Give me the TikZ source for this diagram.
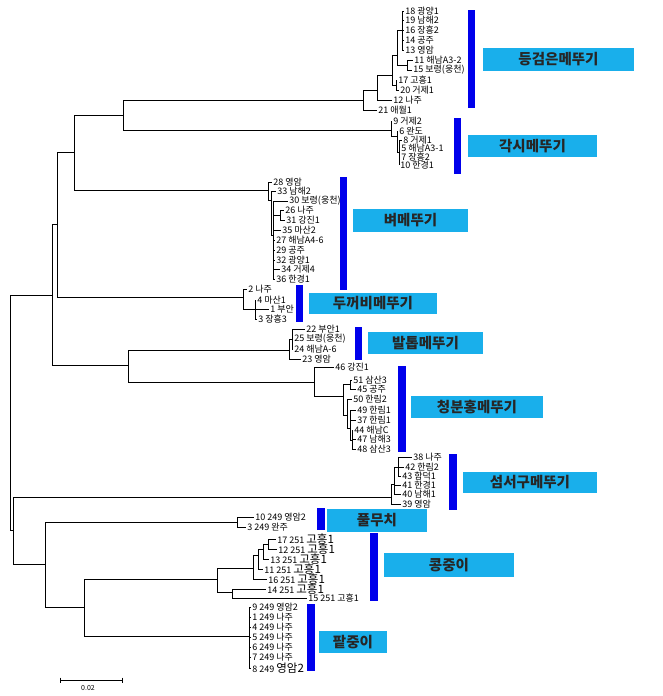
\documentclass[tikz,border=0pt]{standalone}
\usepackage{fontspec}
\setmainfont{Noto Sans CJK KR}
\definecolor{barblue}{RGB}{0,0,235}
\definecolor{boxblue}{RGB}{25,175,235}
\newcommand{\bigname}[1]{{\fontsize{11.5}{11.5}\selectfont #1}}
\begin{document}
\begin{tikzpicture}[x=1pt,y=-1pt,line width=0.8pt,
  tip/.style={anchor=west,inner sep=1pt,font=\fontsize{9}{9}\selectfont},
  grp/.style={fill=boxblue,inner sep=0pt,text=black!85,font=\fontsize{14.5}{14.5}\selectfont\bfseries},
  bar/.style={fill=barblue}]
\useasboundingbox (0,0) rectangle (662,696);
\coordinate (root) at (10,412);
\coordinate (nA) at (52,295);
\coordinate (nB) at (57,224);
\coordinate (nC) at (74,152);
\coordinate (nD) at (123,115);
\coordinate (nE) at (128,365);
\coordinate (nF) at (13,530);
\coordinate (nG) at (45,564);
\coordinate (nH) at (84,607);
\coordinate (dgA) at (363,100);
\coordinate (dgB) at (377,90);
\coordinate (dgC) at (392,75);
\coordinate (dgD) at (397,55);
\coordinate (dgE) at (396,85);
\coordinate (dgF) at (402,30);
\coordinate (dgG) at (407,65);
\coordinate (gsA) at (391,130);
\coordinate (gsB) at (397,136);
\coordinate (gsC) at (399,152);
\coordinate (byA) at (268,190);
\coordinate (byB) at (271,200);
\coordinate (byC) at (273,235);
\coordinate (byD) at (280,215);
\coordinate (dkA) at (243,297);
\coordinate (dkB) at (255,309);
\coordinate (btA) at (289,350);
\coordinate (btB) at (292,339);
\coordinate (cbA) at (314,382);
\coordinate (cbB) at (343,396);
\coordinate (cbC) at (350,384);
\coordinate (cbD) at (347,415);
\coordinate (cbE) at (350,428);
\coordinate (cbF) at (352,440);
\coordinate (smA) at (391,497);
\coordinate (smB) at (394,484);
\coordinate (smC) at (398,467);
\coordinate (pmA) at (237,522);
\coordinate (kjA) at (217,579);
\coordinate (kjB) at (253,568);
\coordinate (kjC) at (258,555);
\coordinate (kjD) at (263,549);
\coordinate (kjE) at (268,544);
\coordinate (kjF) at (232,592);
\coordinate (pjA) at (249,636);
% tips
\node[tip] (dg18) at (404,11) {18 광양1};
\node[tip] (dg19) at (404,20) {19 남해2};
\node[tip] (dg16) at (404,30) {16 장흥2};
\node[tip] (dg14) at (404,40) {14 공주};
\node[tip] (dg13) at (404,50) {13 영암};
\node[tip] (dg11) at (413,60) {11 해남A3-2};
\node[tip] (dg15) at (412,70) {15 보령(웅천)};
\node[tip] (dg17) at (397,80) {17 고흥1};
\node[tip] (dg20) at (399,90) {20 거제1};
\node[tip] (dg12) at (392,100) {12 나주};
\node[tip] (dg21) at (377,110) {21 애월1};
\node[tip] (gs9) at (392,121) {9 거제2};
\node[tip] (gs6) at (398,131) {6 완도};
\node[tip] (gs8) at (402,140) {8 거제1};
\node[tip] (gs5) at (400,148) {5 해남A3-1};
\node[tip] (gs7) at (400,157) {7 장흥2};
\node[tip] (gs10) at (399,165) {10 한경1};
\node[tip] (by28) at (272,182) {28 영암};
\node[tip] (by33) at (276,191) {33 남해2};
\node[tip] (by30) at (288,201) {30 보령(웅천)};
\node[tip] (by26) at (284,210) {26 나주};
\node[tip] (by31) at (285,220) {31 강진1};
\node[tip] (by35) at (281,230) {35 마산2};
\node[tip] (by27) at (275,240) {27 해남A4-6};
\node[tip] (by29) at (275,250) {29 공주};
\node[tip] (by32) at (275,260) {32 광양1};
\node[tip] (by34) at (280,269) {34 거제4};
\node[tip] (by36) at (275,279) {36 한경1};
\node[tip] (dk2) at (247,289) {2 나주};
\node[tip] (dk4) at (256,300) {4 마산1};
\node[tip] (dk1) at (269,309) {1 부안};
\node[tip] (dk3) at (257,319) {3 장흥3};
\node[tip] (bt22) at (305,329) {22 부안1};
\node[tip] (bt25) at (293,339) {25 보령(웅천)};
\node[tip] (bt24) at (293,349) {24 해남A-6};
\node[tip] (bt23) at (301,359) {23 영암};
\node[tip] (cb46) at (334,367) {46 강진1};
\node[tip] (cb51) at (352,380) {51 삼산3};
\node[tip] (cb45) at (356,389) {45 공주};
\node[tip] (cb50) at (352,399) {50 한림2};
\node[tip] (cb49) at (356,410) {49 한림1};
\node[tip] (cb37) at (356,420) {37 한림1};
\node[tip] (cb44) at (353,430) {44 해남C};
\node[tip] (cb47) at (356,439) {47 남해3};
\node[tip] (cb48) at (356,449) {48 삼산3};
\node[tip] (sm38) at (412,457) {38 나주};
\node[tip] (sm42) at (404,467) {42 한림2};
\node[tip] (sm43) at (401,476) {43 함덕1};
\node[tip] (sm41) at (401,485) {41 한경1};
\node[tip] (sm40) at (401,494) {40 남해1};
\node[tip] (sm39) at (401,504) {39 영암};
\node[tip] (pm10) at (254,517) {10 249 영암2};
\node[tip] (pm3) at (246,527) {3 249 완주};
\node[tip] (kj17) at (276,539) {17 251 \bigname{고흥1}};
\node[tip] (kj12) at (277,549) {12 251 \bigname{고흥1}};
\node[tip] (kj13) at (269,559) {13 251 \bigname{고흥1}};
\node[tip] (kj11) at (263,569) {11 251 \bigname{고흥1}};
\node[tip] (kj16) at (267,579) {16 251 \bigname{고흥1}};
\node[tip] (kj14) at (266,589) {14 251 \bigname{고흥1}};
\node[tip] (kj15) at (307,598) {15 251 고흥1};
\node[tip] (pj9) at (251,607) {9 249 영암2};
\node[tip] (pj1) at (251,617) {1 249 나주};
\node[tip] (pj4) at (251,627) {4 249 나주};
\node[tip] (pj5) at (251,637) {5 249 나주};
\node[tip] (pj6) at (251,647) {6 249 나주};
\node[tip] (pj7) at (251,657) {7 249 나주};
\node[tip] (pj8) at (251,668) {8 249 \bigname{영암2}};
% branches
\draw (root) |- (nA) (root) |- (nF);
\draw (nA) |- (nB) (nA) |- (nE);
\draw (nB) |- (nC) (nB) |- (dkA);
\draw (nC) |- (nD) (nC) |- (byA);
\draw (nD) |- (dgA) (nD) |- (gsA);
\draw (nE) |- (btA) (nE) |- (cbA);
\draw (nF) |- (smA) (nF) |- (nG);
\draw (nG) |- (pmA) (nG) |- (nH);
\draw (nH) |- (kjA) (nH) |- (pjA);
\draw (dgA) |- (dgB) (dgA) |- (dg21.west);
\draw (dgB) |- (dgC) (dgB) |- (dg12.west);
\draw (dgC) |- (dgD) (dgC) |- (dgE);
\draw (dgE) |- (dg17.west) (dgE) |- (dg20.west);
\draw (dgD) |- (dgF) (dgD) |- (dgG);
\draw (dgF) |- (dg18.west) (dgF) |- (dg19.west) (dgF) |- (dg16.west) (dgF) |- (dg14.west) (dgF) |- (dg13.west);
\draw (dgG) |- (dg11.west) (dgG) |- (dg15.west);
\draw (gsA) |- (gs9.west) (gsA) |- (gsB);
\draw (gsB) |- (gs6.west) (gsB) |- (gsC);
\draw (gsC) |- (gs8.west) (gsC) |- (gs5.west) (gsC) |- (gs7.west) (gsC) |- (gs10.west);
\draw (byA) |- (by28.west) (byA) |- (byB);
\draw (byB) |- (by33.west) (byB) |- (byC);
\draw (byC) |- (by30.west) (byC) |- (byD) (byC) |- (by35.west) (byC) |- (by27.west) (byC) |- (by29.west) (byC) |- (by32.west) (byC) |- (by34.west) (byC) |- (by36.west);
\draw (byD) |- (by26.west) (byD) |- (by31.west);
\draw (dkA) |- (dk2.west) (dkA) |- (dkB);
\draw (dkB) |- (dk4.west) (dkB) |- (dk1.west) (dkB) |- (dk3.west);
\draw (btA) |- (btB) (btA) |- (bt23.west);
\draw (btB) |- (bt22.west) (btB) |- (bt25.west) (btB) |- (bt24.west);
\draw (cbA) |- (cb46.west) (cbA) |- (cbB);
\draw (cbB) |- (cbC) (cbB) |- (cbD);
\draw (cbC) |- (cb51.west) (cbC) |- (cb45.west);
\draw (cbD) |- (cb50.west) (cbD) |- (cbE);
\draw (cbE) |- (cb49.west) (cbE) |- (cb37.west) (cbE) |- (cbF);
\draw (cbF) |- (cb44.west) (cbF) |- (cb47.west) (cbF) |- (cb48.west);
\draw (smA) |- (smB) (smA) |- (sm39.west);
\draw (smB) |- (smC) (smB) |- (sm41.west) (smB) |- (sm40.west);
\draw (smC) |- (sm38.west) (smC) |- (sm42.west) (smC) |- (sm43.west);
\draw (pmA) |- (pm10.west) (pmA) |- (pm3.west);
\draw (kjA) |- (kjB) (kjA) |- (kjF);
\draw (kjB) |- (kjC) (kjB) |- (kj16.west);
\draw (kjC) |- (kjD) (kjC) |- (kj11.west);
\draw (kjD) |- (kjE) (kjD) |- (kj13.west);
\draw (kjE) |- (kj17.west) (kjE) |- (kj12.west);
\draw (kjF) |- (kj14.west) (kjF) |- (kj15.west);
\draw (pjA) |- (pj9.west) (pjA) |- (pj1.west) (pjA) |- (pj4.west) (pjA) |- (pj5.west) (pjA) |- (pj6.west) (pjA) |- (pj7.west) (pjA) |- (pj8.west);
% bars
\fill[bar] (468,10) rectangle (475,108);
\fill[bar] (454,118) rectangle (461,174);
\fill[bar] (340,177) rectangle (347,290);
\fill[bar] (296,285) rectangle (303,322);
\fill[bar] (355,327) rectangle (362,360);
\fill[bar] (398,366) rectangle (406,452);
\fill[bar] (449,454) rectangle (457,510);
\fill[bar] (317,508) rectangle (325,530);
\fill[bar] (370,533) rectangle (378,601);
\fill[bar] (307,604) rectangle (315,671);
% group names
\node[grp,minimum width=151pt,minimum height=23pt] (gDG) at (558.5,59.5) {등검은메뚜기};
\node[grp,minimum width=129pt,minimum height=22pt] (gGS) at (532.5,146) {각시메뚜기};
\node[grp,minimum width=115pt,minimum height=23pt] (gBY) at (410.5,220.5) {벼메뚜기};
\node[grp,minimum width=128pt,minimum height=21pt] (gDK) at (373,303.5) {두꺼비메뚜기};
\node[grp,minimum width=115pt,minimum height=22pt] (gBT) at (425.5,343) {발톱메뚜기};
\node[grp,minimum width=132pt,minimum height=22pt] (gCB) at (477,407) {청분홍메뚜기};
\node[grp,minimum width=134pt,minimum height=21pt] (gSM) at (530,482.5) {섬서구메뚜기};
\node[grp,minimum width=100pt,minimum height=23pt] (gPM) at (377,520.5) {풀무치};
\node[grp,minimum width=130pt,minimum height=24pt] (gKJ) at (449,565) {콩중이};
\node[grp,minimum width=68pt,minimum height=22pt] (gPJ) at (353,642) {팥중이};
% scale
\coordinate (sbL) at (60,680);
\coordinate (sbR) at (122,680);
\draw[line width=0.6pt] (sbL) -- (sbR);
\draw[line width=0.6pt] ([yshift=2.5pt]sbL) -- ([yshift=-2.5pt]sbL);
\draw[line width=0.6pt] ([yshift=2.5pt]sbR) -- ([yshift=-2.5pt]sbR);
\node[font=\fontsize{7}{7}\selectfont,inner sep=0pt] (sbT) at (88,688) {0.02};
\end{tikzpicture}
\end{document}
